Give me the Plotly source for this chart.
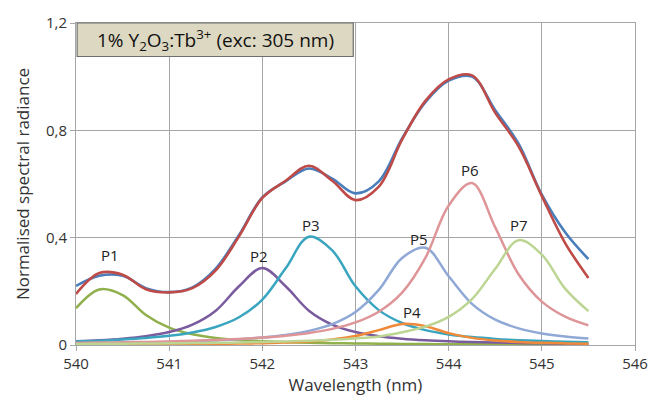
import plotly.graph_objects as go

wavelength = [540.00, 540.25, 540.50, 540.75, 541.00, 541.25, 541.50, 541.75,
              542.00, 542.25, 542.50, 542.75, 543.00, 543.25, 543.50, 543.75,
              544.00, 544.25, 544.50, 544.75, 545.00, 545.25, 545.50]

measured = [0.22, 0.258, 0.258, 0.212, 0.197, 0.215, 0.285, 0.41, 0.55, 0.61, 0.658,
            0.62, 0.565, 0.61, 0.77, 0.905, 0.985, 1.0, 0.875, 0.75, 0.56, 0.42, 0.32]
fit = [0.19, 0.268, 0.262, 0.208, 0.196, 0.212, 0.278, 0.405, 0.548, 0.612, 0.668,
       0.612, 0.54, 0.59, 0.765, 0.91, 0.99, 1.005, 0.865, 0.74, 0.555, 0.38, 0.25]

p1 = [0.137, 0.207, 0.186, 0.112, 0.0645, 0.0398, 0.0265, 0.0187, 0.0139, 0.0107, 0.0085,
      0.0068, 0.0057, 0.0048, 0.0040, 0.0035, 0.0030, 0.0027, 0.0024, 0.0021, 0.0019, 0.0017, 0.0015]
p2 = [0.0138, 0.0178, 0.0237, 0.0329, 0.0483, 0.076, 0.128, 0.219, 0.287, 0.219, 0.128,
      0.076, 0.0483, 0.0329, 0.0237, 0.0178, 0.0138, 0.0110, 0.0090, 0.0075, 0.0063, 0.0054, 0.0047]
p3 = [0.0134, 0.0163, 0.0203, 0.0259, 0.0341, 0.0468, 0.0673, 0.1033, 0.1694, 0.2857, 0.4034,
      0.3525, 0.2186, 0.130, 0.082, 0.0553, 0.0395, 0.0294, 0.0227, 0.0181, 0.0147, 0.0121, 0.0102]
p4 = [0.0014, 0.0016, 0.0019, 0.0023, 0.0027, 0.0033, 0.0041, 0.0052, 0.0068, 0.0093, 0.0134,
      0.0205, 0.0332, 0.0554, 0.0784, 0.0701, 0.0444, 0.0266, 0.0168, 0.0114, 0.0081, 0.0060, 0.0047]
p5 = [0.0062, 0.0071, 0.0082, 0.0097, 0.0115, 0.0139, 0.0171, 0.0215, 0.0279, 0.0374, 0.0526,
      0.0778, 0.1231, 0.2052, 0.3243, 0.3624, 0.2562, 0.1535, 0.0944, 0.0620, 0.0432, 0.0316, 0.0241]
p6 = [0.0079, 0.0089, 0.0101, 0.0116, 0.0134, 0.0157, 0.0187, 0.0226, 0.0277, 0.0349, 0.0451,
      0.0602, 0.0841, 0.1241, 0.1951, 0.3246, 0.5198, 0.6034, 0.4385, 0.2637, 0.1615, 0.1054, 0.0732]
p7 = [0.0039, 0.0043, 0.0049, 0.0054, 0.0061, 0.0071, 0.0082, 0.0093, 0.0113, 0.0131, 0.0158,
      0.0195, 0.0246, 0.0318, 0.0474, 0.0683, 0.1046, 0.1708, 0.2840, 0.3907, 0.3366, 0.2102, 0.1263]

peak_names = ["P1", "P2", "P3", "P4", "P5", "P6", "P7"]
peak_series = [p1, p2, p3, p4, p5, p6, p7]
peak_colors = ["#8FB04A", "#7A5C9E", "#3AA5BF", "#F08A3A", "#8FA8D6", "#DE9598", "#BCD592"]
# label anchor positions (x in nm, y in data units)
label_x = [540.36, 541.96, 542.52, 543.61, 543.68, 544.23, 544.75]
label_y = [0.336, 0.330, 0.449, 0.122, 0.395, 0.654, 0.449]

x_ticks = [540, 541, 542, 543, 544, 545, 546]
y_ticks = [0, 0.4, 0.8, 1.2]
y_ticktext = ["0", "0,4", "0,8", "1,2"]

fig = go.Figure()
for name, ys, col in zip(peak_names, peak_series, peak_colors):
    fig.add_trace(go.Scatter(x=wavelength, y=ys, mode="lines", name=name,
                             line=dict(color=col, width=2.5, shape="spline", smoothing=1.0)))
fig.add_trace(go.Scatter(x=wavelength, y=measured, mode="lines", name="Measured",
                         line=dict(color="#4A7EBB", width=2.6, shape="spline", smoothing=1.0)))
fig.add_trace(go.Scatter(x=wavelength, y=fit, mode="lines", name="Fit",
                         line=dict(color="#BE4B48", width=2.6, shape="spline", smoothing=1.0)))

for name, lx, ly in zip(peak_names, label_x, label_y):
    fig.add_annotation(x=lx, y=ly, text=name, showarrow=False,
                       xanchor="center", yanchor="middle",
                       font=dict(family="Open Sans", size=15, color="#222"))

grid = "#A6A6A6"
fig.update_layout(
    width=660, height=401,
    margin=dict(l=76, r=15, t=18, b=56),
    paper_bgcolor="white", plot_bgcolor="white",
    showlegend=False,
    font=dict(family="Open Sans", size=15, color="#333"),
    xaxis=dict(range=[540, 546], tickvals=x_ticks, ticktext=[str(v) for v in x_ticks],
               showgrid=True, gridcolor=grid, gridwidth=1,
               showline=True, linecolor=grid, linewidth=1, mirror=True,
               ticks="outside", ticklen=5, tickcolor=grid, zeroline=False,
               title=dict(text="Wavelength (nm)", font=dict(size=17), standoff=2),
               tickfont=dict(size=15)),
    yaxis=dict(range=[0, 1.2], tickvals=y_ticks, ticktext=y_ticktext,
               showgrid=True, gridcolor=grid, gridwidth=1,
               showline=True, linecolor=grid, linewidth=1, mirror=True,
               ticks="outside", ticklen=5, tickcolor=grid, zeroline=False,
               title=dict(text="Normalised spectral radiance", font=dict(size=17), standoff=12),
               tickfont=dict(size=15)),
)

fig.add_shape(type="rect", xref="paper", yref="paper", x0=0.002, x1=0.496, y0=0.896, y1=1.0,
              fillcolor="#DDD8C2", line=dict(color="#6E6E6E", width=1.2), layer="above")
fig.add_annotation(xref="paper", yref="paper", x=0.249, y=0.946, showarrow=False,
                   xanchor="center", yanchor="middle",
                   text="1% Y<sub>2</sub>O<sub>3</sub>:Tb<sup>3+</sup> (exc: 305 nm)",
                   font=dict(family="Open Sans", size=19, color="#111"))

fig.write_html("out.html")
